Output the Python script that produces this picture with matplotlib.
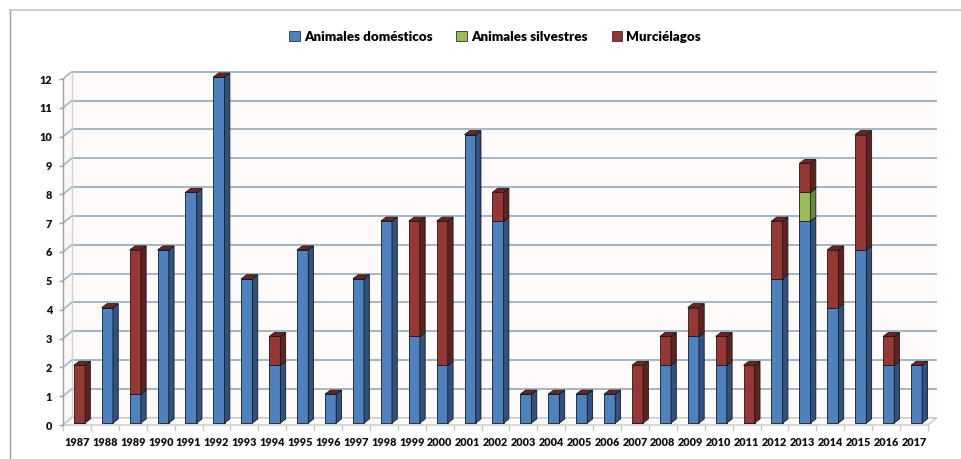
import matplotlib
matplotlib.use("Agg")
import matplotlib.pyplot as plt
from matplotlib.patches import Polygon, Patch
from matplotlib.lines import Line2D
from matplotlib import font_manager as fm
import numpy as np

years = [str(y) for y in range(1987, 2018)]
domesticos = [0, 4, 1, 6, 8, 12, 5, 2, 6, 1, 5, 7, 3, 2, 10, 7, 1, 1, 1, 1,
              0, 2, 3, 2, 0, 5, 7, 4, 6, 2, 2]
silvestres = [0, 0, 0, 0, 0, 0, 0, 0, 0, 0, 0, 0, 0, 0, 0, 0, 0, 0, 0, 0,
              0, 0, 0, 0, 0, 0, 1, 0, 0, 0, 0]
murcielagos = [2, 0, 5, 0, 0, 0, 0, 1, 0, 0, 0, 0, 4, 5, 0, 1, 0, 0, 0, 0,
               2, 1, 1, 1, 2, 2, 1, 2, 4, 1, 0]
series_names = ["Animales domésticos", "Animales silvestres", "Murciélagos"]
yticks = list(range(0, 13))

front_cols = ["#4F81BD", "#9BBB59", "#953735"]
side_cols = ["#2E5283", "#6B8A35", "#62201F"]
top_col = "#6E2624"
edge = "#1a1a1a"

available = {f.name for f in fm.fontManager.ttflist}
if "Liberation Sans Narrow" in available:
    fam, tick_fs, leg_fs = "Liberation Sans Narrow", 9, 10.5
else:
    fam, tick_fs, leg_fs = "Lato", 7.8, 9.6
plt.rcParams['font.family'] = [fam, 'DejaVu Sans']
WEIGHT = 'heavy'

W, H = 962, 459
fig = plt.figure(figsize=(W / 100, H / 100), dpi=100)
ax = fig.add_axes([63 / W, (H - 425) / H, (928 - 63) / W, (425 - 79) / H])
n = len(years)
ax.set_xlim(-0.5, n - 0.5)
ax.set_ylim(0, 12)

# 3D depth offsets (data units)
DX, DY = 0.31, 0.25
BX, BY = 0.09, 0.07
bdx, bdy = 0.19, 0.14
w = 0.40

grid_col = "#A3B6C5"
# back wall
ax.add_patch(Polygon([(-0.5 + DX, DY), (n - 0.5 + DX, DY), (n - 0.5 + DX, 12 + DY),
                      (-0.5 + DX, 12 + DY)], closed=True, facecolor="#FFFAFA",
                     edgecolor="none", zorder=0, clip_on=False))
# side wall
ax.add_patch(Polygon([(-0.5, 0), (-0.5 + DX, DY), (-0.5 + DX, 12 + DY), (-0.5, 12)],
                     closed=True, facecolor="#FCF6F6", edgecolor="none",
                     zorder=0, clip_on=False))
for yv in yticks:
    ax.plot([-0.5 + DX, n - 0.5 + DX], [yv + DY, yv + DY], color=grid_col, lw=1.4,
            zorder=1, clip_on=False, solid_capstyle='butt')
    ax.plot([-0.5, -0.5 + DX], [yv, yv + DY], color=grid_col, lw=1.2, zorder=1,
            clip_on=False)
ax.plot([-0.5 + DX, -0.5 + DX], [DY, 12 + DY], color="#C9D3DB", lw=1.0, zorder=1,
        clip_on=False)
# floor
ax.add_patch(Polygon([(-0.5, 0), (n - 0.5, 0), (n - 0.5 + DX, DY), (-0.5 + DX, DY)],
                     closed=True, facecolor="#FAFAFA", edgecolor="#C8C8C8", lw=1.0,
                     zorder=1, clip_on=False))

x = np.arange(n)
data = [domesticos, silvestres, murcielagos]
bottom = np.zeros(n)
for i, vals in enumerate(data):
    vals = np.array(vals, dtype=float)
    ax.bar(x + BX, vals, width=w, bottom=bottom + BY, color=front_cols[i],
           edgecolor=edge, linewidth=0.6, zorder=3, clip_on=False)
    for xi, b, h in zip(x, bottom, vals):
        if h <= 0:
            continue
        xr = xi + BX + w / 2
        yb = b + BY
        yt = b + h + BY
        ax.add_patch(Polygon([(xr, yb), (xr + bdx, yb + bdy), (xr + bdx, yt + bdy),
                              (xr, yt)], closed=True, facecolor=side_cols[i],
                             edgecolor=edge, lw=0.6, zorder=3, clip_on=False))
    bottom = bottom + vals

for xi, T in zip(x, bottom):
    xl = xi + BX - w / 2
    xr = xi + BX + w / 2
    yt = T + BY
    ax.add_patch(Polygon([(xl, yt), (xl + bdx, yt + bdy), (xr + bdx, yt + bdy),
                          (xr, yt)], closed=True, facecolor=top_col,
                         edgecolor=edge, lw=0.6, zorder=4, clip_on=False))

for s in ["top", "right", "bottom"]:
    ax.spines[s].set_visible(False)
ax.spines["left"].set_color("#A0A0A0")
ax.spines["left"].set_linewidth(1.0)

ax.set_yticks(yticks)
ax.set_yticklabels([str(v) for v in yticks], fontsize=tick_fs, fontweight=WEIGHT,
                   color="#111111")
ax.tick_params(axis='y', length=3, width=1, color="#A0A0A0", pad=5)
ax.set_xticks(x)
ax.set_xticklabels(years, fontsize=tick_fs, fontweight=WEIGHT, color="#111111")
ax.tick_params(axis='x', which='major', length=0, pad=9)
ax.set_xticks(np.arange(-0.5, n, 1), minor=True)
ax.tick_params(axis='x', which='minor', length=4, width=1, color="#C8C8C8")
ax.set_facecolor("none")

handles = [Patch(facecolor=front_cols[i], edgecolor="#333333", linewidth=0.6)
           for i in range(3)]
fig.legend(handles, series_names, loc='center', bbox_to_anchor=(495 / W, 1 - 37 / H),
           ncol=3, frameon=False, handlelength=0.8, handleheight=0.8,
           handletextpad=0.3, columnspacing=1.8,
           prop={'size': leg_fs, 'weight': WEIGHT})

# chart border
fig.add_artist(Line2D([9.5 / W, 9.5 / W], [0, 1 - 9.5 / H], color="#9A9A9A", lw=1.0,
                      transform=fig.transFigure))
fig.add_artist(Line2D([9.5 / W, 1], [1 - 9.5 / H, 1 - 9.5 / H], color="#C4C4C4",
                      lw=1.2, transform=fig.transFigure))

fig.savefig("out.png", dpi=100)
